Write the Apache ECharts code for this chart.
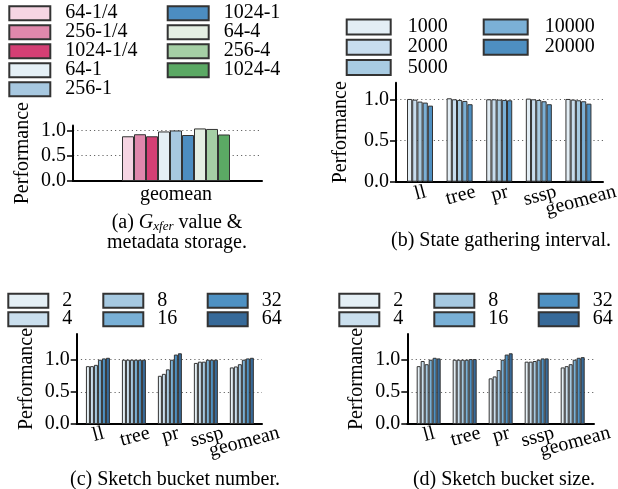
<!DOCTYPE html>
<html><head><meta charset="utf-8">
<script src="https://cdn.jsdelivr.net/npm/echarts@6/dist/echarts.min.js"></script>
<style>html,body{margin:0;padding:0;background:#fff}#c{width:618px;height:489px}</style>
</head><body><div id="c"></div>
<script>
// ---------- Panel (a) ----------
const aCats = ['geomean'];
const aNames = ['64-1/4','256-1/4','1024-1/4','64-1','256-1','1024-1','64-4','256-4','1024-4'];
const aValues = [0.885, 0.925, 0.885, 0.98, 1.0, 0.91, 1.04, 1.03, 0.92];
const aColors = ['#f6d5e3','#e088ac','#d43f74','#e5f0f6','#a7c8e0','#4c8dc1','#e5efe3','#a5cfa5','#5ba964'];

// ---------- Panel (b) ----------
const bCats = ['ll','tree','pr','sssp','geomean'];
const bNames = ['1000','2000','5000','10000','20000'];
const b1000  = [1.004, 1.012, 1.0,   1.008, 1.004];
const b2000  = [0.996, 1.0,   1.0,   1.0,   0.996];
const b5000  = [0.972, 0.992, 0.996, 0.992, 0.988];
const b10000 = [0.96,  0.98,  0.992, 0.976, 0.976];
const b20000 = [0.923, 0.94,  0.988, 0.94,  0.947];
const bColors = ['#e3eef5','#c8ddee','#a8cbe2','#7bb0d6','#4e8fc1'];

// ---------- Panel (c) ----------
const cCats = ['ll','tree','pr','sssp','geomean'];
const cNames = ['2','4','8','16','32','64'];
const c2  = [0.9,  1.0, 0.75, 0.95, 0.88];
const c4  = [0.9,  1.0, 0.78, 0.97, 0.895];
const c8  = [0.92, 1.0, 0.85, 0.97, 0.93];
const c16 = [1.0,  1.0, 1.0,  1.0,  1.0];
const c32 = [1.02, 1.0, 1.08, 1.0,  1.02];
const c64 = [1.03, 1.0, 1.1,  1.0,  1.03];

// ---------- Panel (d) ----------
const dCats = ['ll','tree','pr','sssp','geomean'];
const dNames = ['2','4','8','16','32','64'];
const d2  = [0.9,  1.0,  0.71, 0.97, 0.88];
const d4  = [0.98, 1.0,  0.74, 0.97, 0.9];
const d8  = [0.93, 1.0,  0.84, 0.98, 0.93];
const d16 = [1.0,  1.0,  1.0,  1.0,  1.0];
const d32 = [1.03, 1.01, 1.08, 1.02, 1.03];
const d64 = [1.02, 1.01, 1.1,  1.02, 1.04];
const cdColors = ['#e4eff5','#cadfee','#a6c9e1','#79b0d6','#4e91c3','#376a99'];

const yTicks = [0, 0.5, 1.0];

const FONT = 'Liberation Serif';
const ROT = 15;
const ctx = document.createElement('canvas').getContext('2d');
ctx.font = '20px "Liberation Serif"';

function richFor(cats) {
  const r = {};
  cats.forEach((c, i) => {
    const w = ctx.measureText(c).width;
    r['c' + i] = { fontFamily: FONT, fontSize: 20, color: '#000',
      padding: [w * Math.sin(ROT * Math.PI / 180), 0, 0, 0] };
  });
  return r;
}

// idxs: which category indices this axis labels
function xAxisCfg(gridIndex, cats, min, max, rotate, margin, idxs, showLine) {
  const lab = {
    customValues: idxs,
    showMinLabel: true, showMaxLabel: true, hideOverlap: false,
    fontFamily: FONT, fontSize: 20, color: '#000', margin,
    align: 'center', verticalAlign: rotate ? 'middle' : 'top'
  };
  if (rotate) {
    lab.rotate = rotate;
    lab.rich = richFor(cats);
    lab.formatter = v => { const i = Math.round(v); return '{c' + i + '|' + cats[i] + '}'; };
  } else {
    lab.formatter = v => cats[Math.round(v)];
  }
  return {
    type: 'value', gridIndex, min, max, position: 'bottom', offset: 0,
    axisLine: { show: showLine, onZero: false, lineStyle: { color: '#000', width: 2 } },
    axisTick: { show: false },
    splitLine: { show: false },
    axisLabel: lab
  };
}

function yAxisCfg(gridIndex, max, nameGap) {
  return {
    type: 'value', gridIndex, min: 0, max, position: 'left',
    name: 'Performance', nameLocation: 'middle', nameGap,
    nameTextStyle: { fontFamily: FONT, fontSize: 20, color: '#000' },
    axisLine: { show: true, onZero: false, lineStyle: { color: '#000', width: 2 } },
    axisTick: { show: true, length: 6, customValues: yTicks, lineStyle: { color: '#000', width: 1.5 } },
    axisLabel: { customValues: yTicks, showMinLabel: true, showMaxLabel: true, hideOverlap: false,
      formatter: v => '{t|' + v.toFixed(1) + '}',
      rich: { t: { fontFamily: FONT, fontSize: 20, color: '#000' } },
      fontFamily: FONT, fontSize: 20, color: '#000', margin: 7 },
    splitLine: { show: true, showMinLine: false, showMaxLine: true,
      lineStyle: { color: '#666', type: [1.2, 3], width: 1.2 } }
  };
}

function barSeries(name, values, color, axisIdx, barWidth) {
  return {
    type: 'bar', name, xAxisIndex: axisIdx, yAxisIndex: axisIdx,
    data: values.map((v, i) => [i, v]),
    barWidth, barGap: '0%',
    itemStyle: { color, borderColor: '#333', borderWidth: 1 },
    silent: true
  };
}

function legendCol(names, left, top, w, h, pad, pitch) {
  return {
    show: true, orient: 'vertical', left, top, padding: 0,
    itemWidth: w, itemHeight: h, itemGap: pitch - 19.8, icon: 'rect',
    selectedMode: false, data: names,
    formatter: n => '{t|' + n + '}',
    textStyle: { fontFamily: FONT, fontSize: 20, color: '#000', lineHeight: 18,
      rich: { t: { fontFamily: FONT, fontSize: 20, color: '#000', lineHeight: 18, height: 18, padding: [0, 0, 0, pad] } } }
  };
}

function caption(text, cx, top, rich) {
  return {
    text, left: cx, top, textAlign: 'center',
    textStyle: { fontFamily: FONT, fontSize: 20, fontWeight: 'normal', color: '#000', lineHeight: 20, rich: rich || {} }
  };
}

const series = [];
aNames.forEach((n, i) => series.push(barSeries(n, [aValues[i]], aColors[i], 0, 12)));
[b1000, b2000, b5000, b10000, b20000].forEach((arr, i) => series.push(barSeries(bNames[i], arr, bColors[i], 1, 5.2)));
[c2, c4, c8, c16, c32, c64].forEach((arr, i) => series.push(barSeries(cNames[i], arr, cdColors[i], 2, 4)));
[d2, d4, d8, d16, d32, d64].forEach((arr, i) => series.push(barSeries(dNames[i], arr, cdColors[i], 3, 4)));

const mainIdx = [0, 1, 2, 4];
const extraIdx = [3];

const option = {
  animation: false,
  backgroundColor: '#fff',
  textStyle: { fontFamily: FONT, color: '#000' },
  grid: [
    { left: 73, top: 125.4, width: 189, height: 55.6, outerBoundsMode: 'none' },
    { left: 396, top: 82.8, width: 207, height: 98.9, outerBoundsMode: 'none' },
    { left: 76.7, top: 334, width: 185.3, height: 90, outerBoundsMode: 'none' },
    { left: 407.3, top: 334, width: 186.7, height: 90, outerBoundsMode: 'none' }
  ],
  xAxis: [
    xAxisCfg(0, aCats, -0.545, 0.455, 0, 4, [0], true),
    xAxisCfg(1, bCats, -0.606, 4.62, ROT, 10, mainIdx, true),
    xAxisCfg(2, cCats, -0.59, 4.56, ROT, 9, mainIdx, true),
    xAxisCfg(3, dCats, -0.594, 4.592, ROT, 9, mainIdx, true),
    // second label rows for the label that would otherwise be hidden by overlap checks
    xAxisCfg(1, bCats, -0.606, 4.62, ROT, 10, extraIdx, false),
    xAxisCfg(2, cCats, -0.59, 4.56, ROT, 9, extraIdx, false),
    xAxisCfg(3, dCats, -0.594, 4.592, ROT, 9, extraIdx, false)
  ],
  yAxis: [
    yAxisCfg(0, 1.1, 40),
    yAxisCfg(1, 1.2, 45),
    yAxisCfg(2, 1.4, 40),
    yAxisCfg(3, 1.4, 41)
  ],
  legend: [
    legendCol(aNames.slice(0, 5), 8.3, 3.2, 41, 14, 10, 18.8),
    legendCol(aNames.slice(5), 166.7, 3.2, 41, 14, 10, 18.8),
    legendCol(bNames.slice(0, 3), 345.7, 17, 44, 15, 12, 20),
    legendCol(bNames.slice(3), 482.7, 17, 44, 15, 12, 20),
    legendCol(cNames.slice(0, 2), 7.3, 290.7, 40, 14, 9, 18.3),
    legendCol(cNames.slice(2, 4), 102.3, 290.7, 40, 14, 9, 18.3),
    legendCol(cNames.slice(4), 206.7, 290.7, 40, 14, 9, 18.3),
    legendCol(dNames.slice(0, 2), 338.3, 290.7, 40, 14, 9, 18.3),
    legendCol(dNames.slice(2, 4), 433.3, 290.7, 40, 14, 9, 18.3),
    legendCol(dNames.slice(4), 537.7, 290.7, 40, 14, 9, 18.3)
  ],
  title: [
    caption('(a) {i|G}{s|xfer} value &\nmetadata storage.', 172, 208, {
      i: { fontFamily: FONT, fontSize: 20, fontStyle: 'italic', color: '#000' },
      s: { fontFamily: FONT, fontSize: 13, fontStyle: 'italic', color: '#000', padding: [8, 0, 0, 0] }
    }),
    caption('(b) State gathering interval.', 496, 226),
    caption('(c) Sketch bucket number.', 170, 465),
    caption('(d) Sketch bucket size.', 499, 465)
  ],
  series
};

const chart = echarts.init(document.getElementById('c'), null, { renderer: 'canvas', width: 618, height: 489 });
chart.setOption(option);
</script>
</body></html>
